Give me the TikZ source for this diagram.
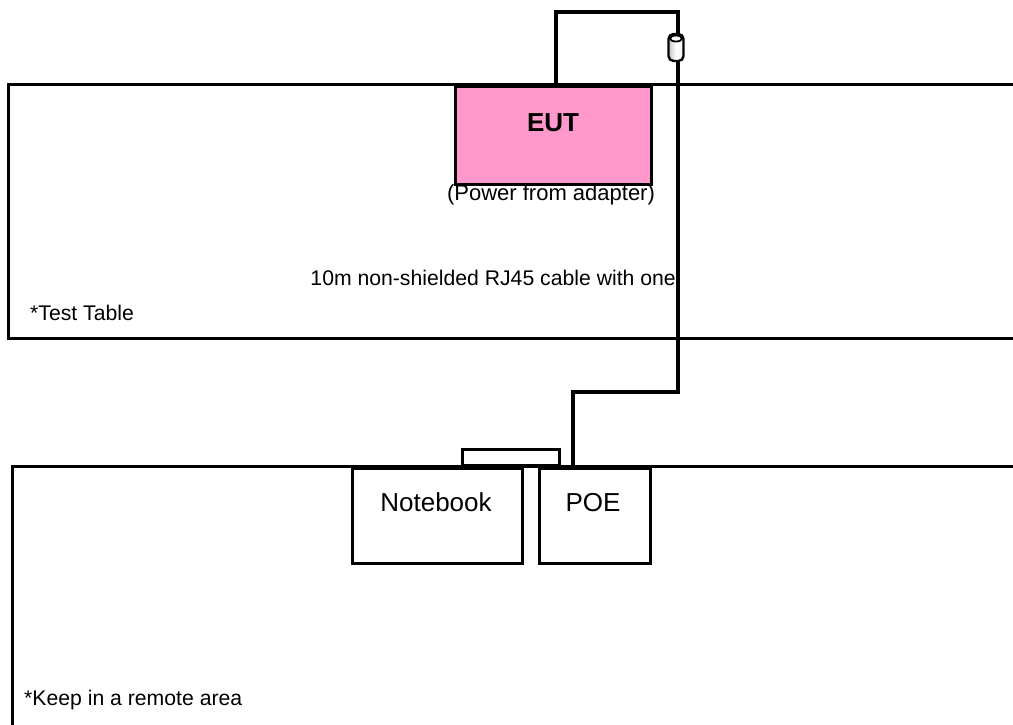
\documentclass[tikz,border=0pt]{standalone}
\usepackage{fontspec}
\setmainfont{Liberation Sans}
\begin{document}
\begin{tikzpicture}[x=1pt,y=-1pt,
  tableline/.style={line width=3pt},
  boxline/.style={draw,line width=2.6pt,rectangle,inner sep=0pt},
  cable/.style={line width=3.5pt},
  lbl/.style={font=\fontsize{21.2}{24}\selectfont,inner sep=0pt}]
\useasboundingbox[fill=white] (0,0) rectangle (1013,724);
% test table
\draw[tableline] (1020,84) -- (8,84) -- (8,338) -- (1020,338);
\node[lbl,anchor=base west] (tt) at (30,320) {*Test Table};
% remote table
\draw[tableline] (12,730) -- (12,466) -- (1020,466);
\node[lbl,anchor=base west] (ka) at (24,705) {*Keep in a remote area};
% EUT
\node[boxline,fill={rgb,255:red,255;green,153;blue,204},minimum width=196pt,minimum height=98pt,anchor=north west] (eut) at (454,85) {};
\node[inner sep=0pt,font=\fontsize{26}{28}\selectfont\bfseries,anchor=base] (eutl) at (553,131) {EUT};
\node[lbl,font=\fontsize{22}{24}\selectfont,anchor=base] (pwr) at (551,200) {(Power from adapter)};
\node[lbl,anchor=base east] (cbl) at (676,285) {10m non-shielded RJ45 cable with one};
% notebook, POE
\node[boxline,minimum width=170pt,minimum height=95pt,anchor=north west] (nb) at (351,467) {};
\node[inner sep=0pt,font=\fontsize{26}{28}\selectfont,anchor=base] (nbl) at (436,511) {Notebook};
\node[boxline,minimum width=111pt,minimum height=95pt,anchor=north west] (poe) at (538,467) {};
\node[inner sep=0pt,font=\fontsize{26}{28}\selectfont,anchor=base] (poel) at (593,511) {POE};
\node[boxline,fill=white,minimum width=97pt,minimum height=16pt,anchor=south west] (conn) at (461,467) {};
% ferrite
\node[draw,line width=2.4pt,rounded corners=5pt,minimum width=15pt,minimum height=27pt,inner sep=0pt,left color=gray!45,right color=gray!10,middle color=white] (fer) at (676,47.5) {};
\draw[line width=1.8pt,fill=white] (676,38.5) ellipse (6pt and 3pt);
% cable
\coordinate (c1) at (556,12);
\coordinate (c2) at (678,12);
\coordinate (c3) at (678,392);
\coordinate (c4) at (573,392);
\draw[cable] (eut.north -| c1) -- (c1) -- (c2) -- (fer.north -| c2);
\draw[cable] (fer.south -| c2) -- (c3) -- (c4) -- (poe.north -| c4);
\end{tikzpicture}
\end{document}
